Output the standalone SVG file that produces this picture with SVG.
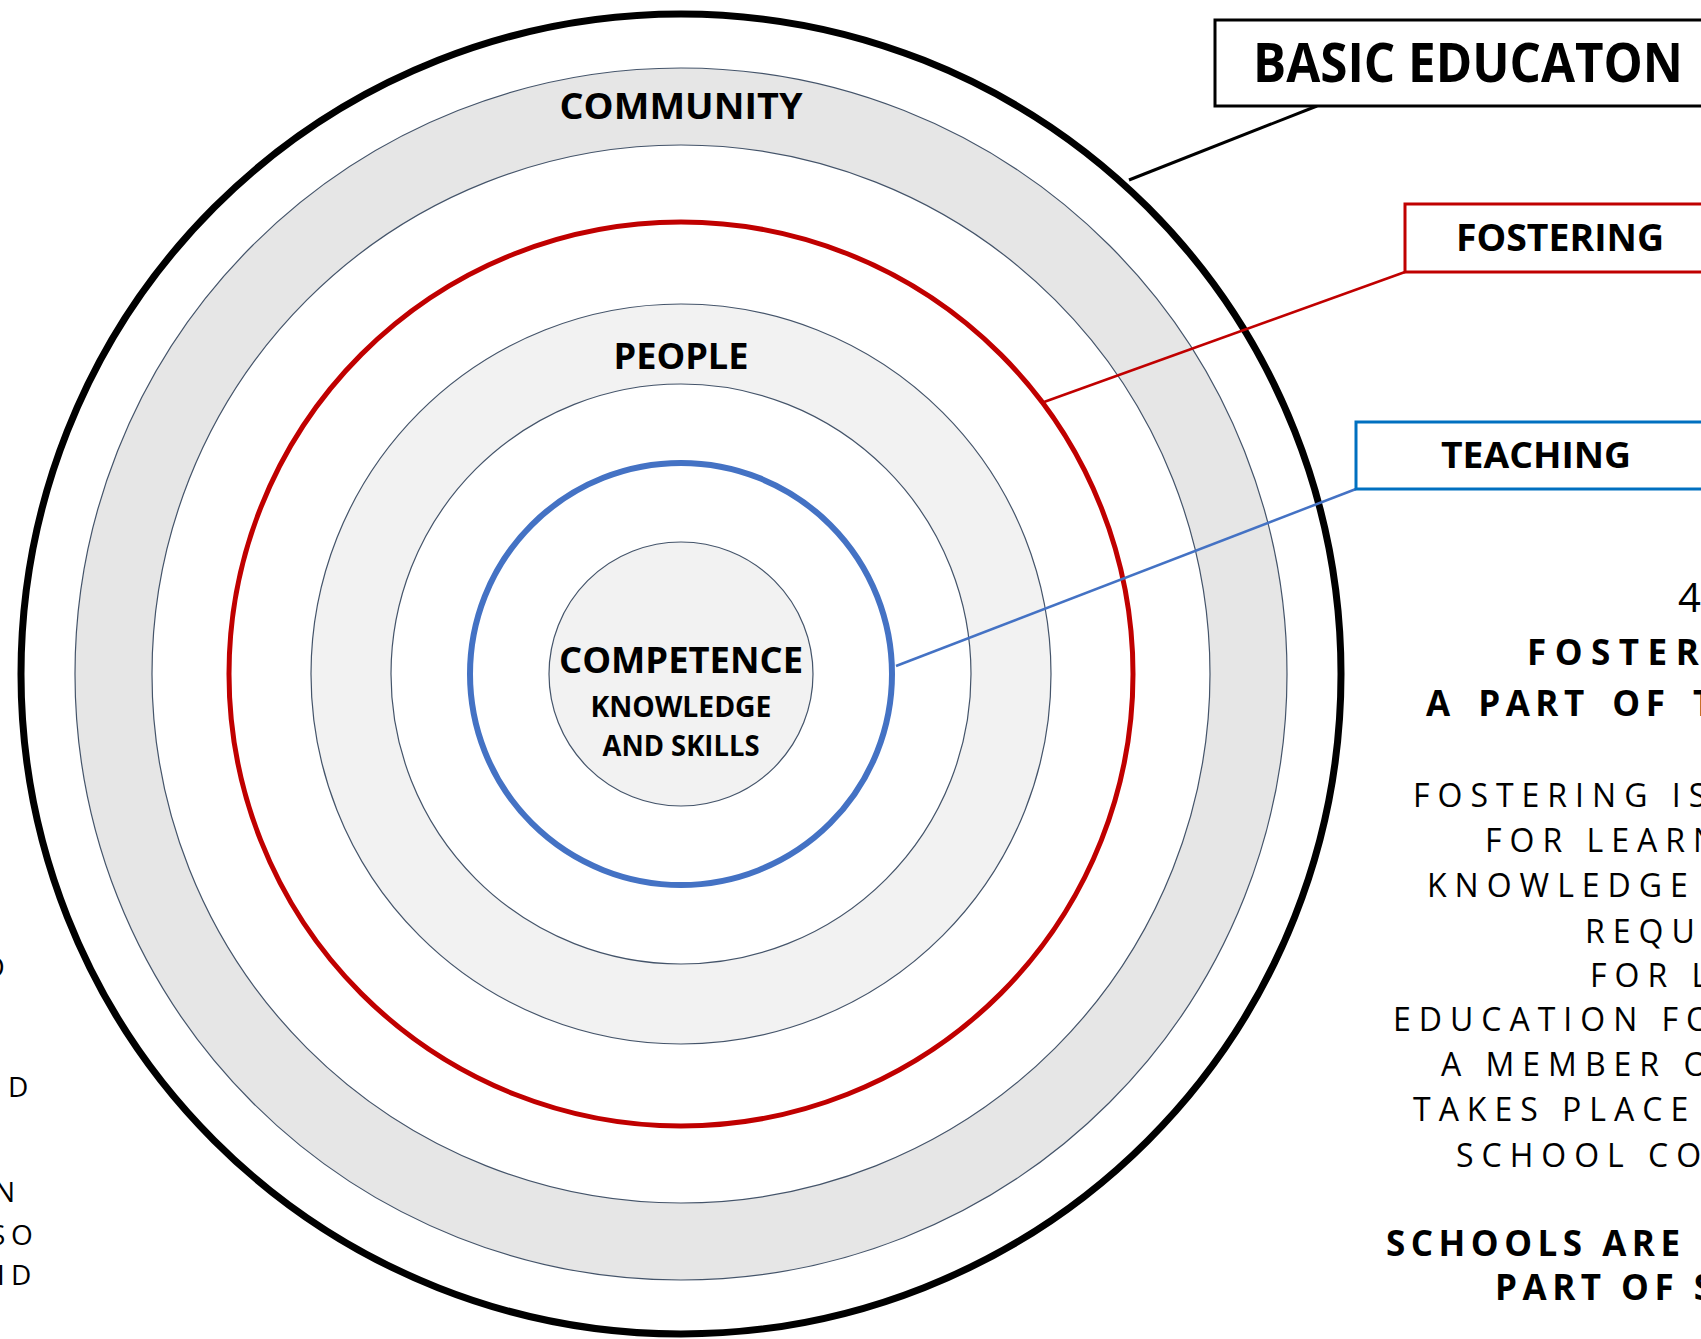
<svg xmlns="http://www.w3.org/2000/svg" width="1701" height="1339" viewBox="0 0 1701 1339">
<style>
.thin{stroke:#44546a;stroke-width:1.2}
.lbl{font-family:"Open Sans","Liberation Sans",sans-serif;font-weight:700;fill:#000;text-anchor:middle}
.body{font-family:"Open Sans","Liberation Sans",sans-serif;font-size:32px;letter-spacing:8px;fill:#000}
.bodyb{font-family:"Open Sans","Liberation Sans",sans-serif;font-size:35px;font-weight:700;letter-spacing:5.5px;fill:#000}
.left{font-family:"Open Sans","Liberation Sans",sans-serif;font-size:28px;fill:#000}
</style>
<rect width="1701" height="1339" fill="#ffffff"/>
<g id="basic-education-circle">
<circle cx="681" cy="674" r="660" fill="#ffffff" stroke="#000000" stroke-width="7"/>
</g>
<g id="community">
<circle cx="681" cy="674" r="606" fill="#e6e6e6" class="thin"/>
<circle cx="681" cy="674" r="529" fill="#ffffff" class="thin"/>
<text class="lbl" x="681" y="119" font-size="36" textLength="243" lengthAdjust="spacingAndGlyphs">COMMUNITY</text>
</g>
<g id="fostering-circle">
<circle cx="681" cy="674" r="452" fill="none" stroke="#c00000" stroke-width="5"/>
</g>
<g id="people">
<circle cx="681" cy="674" r="370" fill="#f2f2f2" class="thin"/>
<circle cx="681" cy="674" r="290" fill="#ffffff" class="thin"/>
<text class="lbl" x="681" y="369" font-size="36" textLength="135" lengthAdjust="spacingAndGlyphs">PEOPLE</text>
</g>
<g id="teaching-circle">
<circle cx="681" cy="674" r="211" fill="none" stroke="#4472c4" stroke-width="6"/>
</g>
<g id="competence">
<circle cx="681" cy="674" r="132" fill="#f2f2f2" class="thin"/>
<text class="lbl" x="681" y="673" font-size="36" textLength="244" lengthAdjust="spacingAndGlyphs">COMPETENCE</text>
<text class="lbl" x="681" y="717" font-size="28" textLength="181" lengthAdjust="spacingAndGlyphs">KNOWLEDGE</text>
<text class="lbl" x="681" y="756" font-size="28" textLength="157" lengthAdjust="spacingAndGlyphs">AND SKILLS</text>
</g>
<g id="connectors">
<line x1="1317" y1="106" x2="1129" y2="180" stroke="#000000" stroke-width="3"/>
<line x1="1405" y1="272" x2="1044" y2="402" stroke="#c00000" stroke-width="2.5"/>
<line x1="1356" y1="489" x2="896" y2="666" stroke="#4472c4" stroke-width="2.5"/>
</g>
<g id="box-basic-education">
<rect x="1215" y="20" width="600" height="86" fill="#ffffff" stroke="#000000" stroke-width="3"/>
<text class="lbl" x="1468" y="82" font-size="54" textLength="430" lengthAdjust="spacingAndGlyphs">BASIC EDUCATON</text>
</g>
<g id="box-fostering">
<rect x="1405" y="204" width="600" height="68" fill="#ffffff" stroke="#c00000" stroke-width="3"/>
<text class="lbl" x="1560" y="251" font-size="37" textLength="208" lengthAdjust="spacingAndGlyphs">FOSTERING</text>
</g>
<g id="box-teaching">
<rect x="1356" y="422" width="600" height="67" fill="#ffffff" stroke="#0070c0" stroke-width="3"/>
<text class="lbl" x="1536" y="468" font-size="36" textLength="190" lengthAdjust="spacingAndGlyphs">TEACHING</text>
</g>
<g id="right-text">
<text class="body" x="1678" y="612" style="font-size:40px">4</text>
<text class="bodyb" x="1527" y="665" style="letter-spacing:8.5px">FOSTER</text>
<text class="bodyb" x="1426" y="716" word-spacing="8">A PART OF T</text>
<text class="body" x="1413" y="807">FOSTERING IS</text>
<text class="body" x="1485" y="852">FOR LEARN</text>
<text class="body" x="1427" y="897">KNOWLEDGE</text>
<text class="body" x="1585" y="943">REQU</text>
<text class="body" x="1590" y="987">FOR L</text>
<text class="body" x="1393" y="1031">EDUCATION FO</text>
<text class="body" x="1441" y="1076">A MEMBER O</text>
<text class="body" x="1413" y="1121">TAKES PLACE</text>
<text class="body" x="1456" y="1167">SCHOOL CO</text>
<text class="bodyb" x="1386" y="1256">SCHOOLS ARE</text>
<text class="bodyb" x="1495" y="1300">PART OF S</text>
</g>
<g id="left-text">
<text class="left" x="-17" y="977">O</text>
<text class="left" x="8" y="1097">D</text>
<text class="left" x="-6" y="1202">N</text>
<text class="left" x="-10" y="1245">S</text>
<text class="left" x="11" y="1245">O</text>
<text class="left" x="-3" y="1285">I</text>
<text class="left" x="11" y="1285">D</text>
</g>
</svg>
